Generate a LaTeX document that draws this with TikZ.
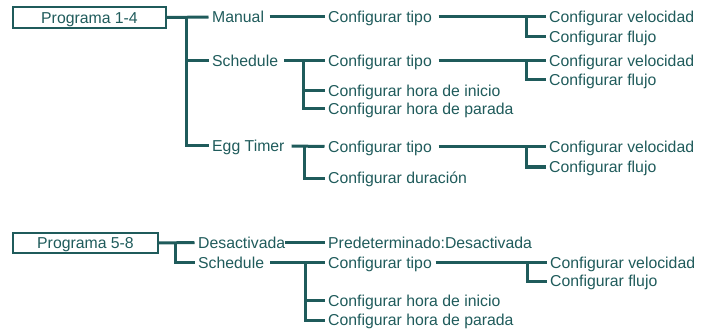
\documentclass[tikz,border=0pt]{standalone}
\usepackage{fontspec}
\setmainfont{Liberation Sans}
\definecolor{teal}{RGB}{31,91,91}
\begin{document}
\begin{tikzpicture}[x=1pt,y=-1pt,
  lbl/.style={anchor=west,inner xsep=3.5pt,inner ysep=0pt,text height=11.5pt,text depth=0pt,text=teal,font=\fontsize{15.8}{18}\selectfont},
  prog/.style={draw=teal,line width=1.5pt,inner sep=0pt,text=teal,font=\fontsize{15.8}{18}\selectfont,text height=11.5pt,text depth=0pt},
  conn/.style={draw=teal,line width=3pt}]
\useasboundingbox (0,0) rectangle (711,331);
% ---------- Programa 1-4
\node[prog,minimum width=153pt,minimum height=21pt] (p14) at (89.5,17.5) {Programa 1-4};
\node[lbl] (manual) at (208.5,17) {Manual};
\node[lbl] (sched1) at (208.5,61) {Schedule};
\node[lbl] (egg) at (208.5,146) {Egg Timer};
\node[lbl] (tipo1) at (324.5,17) {Configurar tipo};
\node[lbl] (vel1) at (545.5,17) {Configurar velocidad};
\node[lbl] (flu1) at (545.5,37) {Configurar flujo};
\node[lbl] (tipo2) at (324.5,61) {Configurar tipo};
\node[lbl] (vel2) at (545.5,61) {Configurar velocidad};
\node[lbl] (flu2) at (545.5,80) {Configurar flujo};
\node[lbl] (ini1) at (324.5,91) {Configurar hora de inicio};
\node[lbl] (par1) at (324.5,109) {Configurar hora de parada};
\node[lbl] (tipo3) at (324.5,146.5) {Configurar tipo};
\node[lbl] (vel3) at (545.5,146.5) {Configurar velocidad};
\node[lbl] (flu3) at (545.5,167) {Configurar flujo};
\node[lbl] (dur) at (324.5,178) {Configurar duración};
\coordinate (t1) at (186,0);
\coordinate (b12) at (303,0);
\coordinate (b13) at (304,0);
\coordinate (bv) at (526,0);
% connectors
\draw[conn] (p14.east) -- (manual.west);
\draw[conn] (t1 |- manual.west) |- (egg.west);
\draw[conn] (t1 |- sched1.west) -- (sched1.west);
\draw[conn] ([xshift=2pt]manual.east) -- (tipo1.west);
\draw[conn] ([xshift=3pt]tipo1.east) -- (vel1.west);
\draw[conn] (bv |- vel1.west) |- (flu1.west);
\draw[conn] ([xshift=2.5pt]sched1.east) -- (tipo2.west);
\draw[conn] (b12 |- tipo2.west) |- (par1.west);
\draw[conn] (b12 |- ini1.west) -- (ini1.west);
\draw[conn] ([xshift=3pt]tipo2.east) -- (vel2.west);
\draw[conn] (bv |- vel2.west) |- (flu2.west);
\draw[conn] ([xshift=3.5pt]egg.east) -- (tipo3.west);
\draw[conn] (b13 |- tipo3.west) |- (dur.west);
\draw[conn] ([xshift=3pt]tipo3.east) -- (vel3.west);
\draw[conn] (bv |- vel3.west) |- (flu3.west);
% ---------- Programa 5-8
\node[prog,minimum width=145pt,minimum height=20pt] (p58) at (85.5,243) {Programa 5-8};
\node[lbl] (des) at (194.5,242.5) {Desactivada};
\node[lbl] (sched2) at (194.5,262.5) {Schedule};
\node[lbl] (pred) at (324.5,242.5) {Predeterminado:Desactivada};
\node[lbl] (tipo4) at (324.5,262.5) {Configurar tipo};
\node[lbl] (vel4) at (546.5,262.5) {Configurar velocidad};
\node[lbl] (flu4) at (546.5,281) {Configurar flujo};
\node[lbl] (ini2) at (324.5,300.5) {Configurar hora de inicio};
\node[lbl] (par2) at (324.5,320) {Configurar hora de parada};
\coordinate (t2) at (175,0);
\coordinate (b22) at (305,0);
\coordinate (bv2) at (527,0);
\draw[conn] (p58.east) -- (des.west);
\draw[conn] (t2 |- des.west) |- (sched2.west);
\draw[conn] ([xshift=-3.5pt]des.east) -- (pred.west);
\draw[conn] ([xshift=2.5pt]sched2.east) -- (tipo4.west);
\draw[conn] (b22 |- tipo4.west) |- (par2.west);
\draw[conn] (b22 |- ini2.west) -- (ini2.west);
\draw[conn] ([xshift=0pt]tipo4.east) -- (vel4.west);
\draw[conn] (bv2 |- vel4.west) |- (flu4.west);
\end{tikzpicture}
\end{document}
